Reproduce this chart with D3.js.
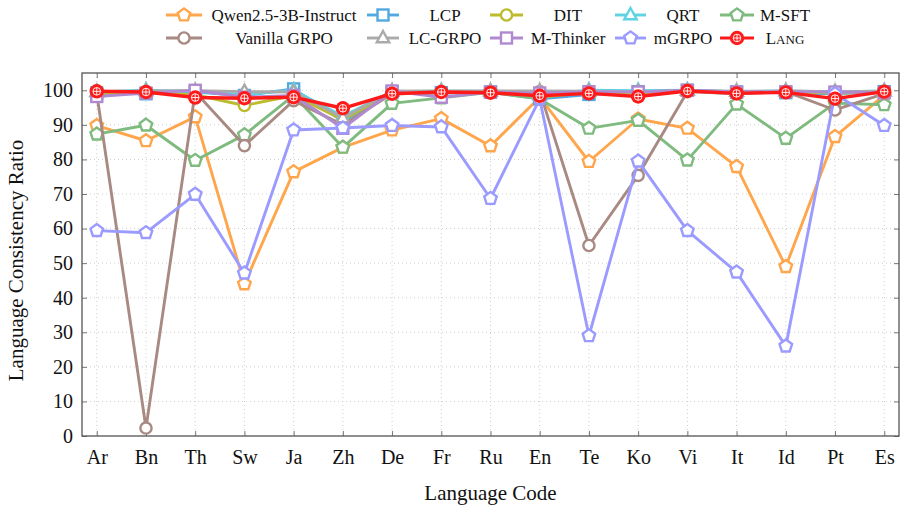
<!DOCTYPE html>
<html>
<head>
<meta charset="utf-8">
<script src="https://cdn.jsdelivr.net/npm/d3@7"></script>
<style>
  body { margin: 0; background: #fff; }
  text { font-family: "Liberation Serif", "DejaVu Serif", serif; fill: #111; }
</style>
</head>
<body>
<svg id="chart" width="907" height="512"></svg>
<script>
"use strict";

// language codes on the x axis
const langs = ["Ar", "Bn", "Th", "Sw", "Ja", "Zh", "De", "Fr", "Ru", "En", "Te", "Ko", "Vi", "It", "Id", "Pt", "Es"];
const yTicks = [0, 10, 20, 30, 40, 50, 60, 70, 80, 90, 100];

// series values
const qwen     = [89.8, 85.4, 92.3, 44.0, 76.4, 83.5, 88.5, 91.8, 83.9, 98.0, 79.4, 91.7, 89.0, 77.9, 49.0, 86.6, 98.6];
const lcp      = [99.2, 99.0, 99.5, 98.5, 100.4, 91.0, 99.5, 99.3, 99.5, 97.5, 98.8, 99.6, 100.0, 99.5, 99.3, 99.0, 99.6];
const dit      = [99.0, 99.3, 98.7, 95.6, 98.5, 91.5, 99.3, 99.5, 99.6, 98.0, 99.4, 99.2, 99.9, 99.3, 99.5, 99.2, 99.5];
const qrt      = [99.5, 100.0, 99.6, 98.8, 100.0, 92.5, 99.6, 99.8, 99.7, 98.5, 100.0, 99.9, 100.0, 99.6, 99.8, 99.5, 99.8];
const msft     = [87.3, 89.9, 79.7, 87.1, 98.5, 83.5, 96.2, 97.8, 99.4, 97.5, 89.0, 91.3, 79.8, 96.0, 86.1, 96.3, 95.8];
const vanilla  = [99.0, 2.3, 99.5, 84.0, 97.0, 90.0, 99.0, 99.2, 99.5, 99.6, 55.1, 75.4, 99.6, 99.0, 99.6, 94.3, 99.0];
const lcgrpo   = [99.6, 99.8, 99.9, 99.6, 99.5, 92.0, 99.8, 99.7, 99.8, 99.8, 99.7, 99.6, 99.9, 99.7, 99.8, 99.6, 99.7];
const mthinker = [98.2, 99.2, 100.0, 98.0, 98.5, 89.0, 99.8, 98.0, 99.5, 99.2, 99.6, 99.5, 100.0, 99.5, 99.6, 99.5, 99.3];
const mgrpo    = [59.4, 58.8, 69.9, 47.1, 88.5, 89.1, 89.8, 89.4, 68.7, 97.5, 29.0, 79.5, 59.4, 47.4, 26.0, 99.0, 89.8];
const lang     = [99.7, 99.5, 97.9, 97.7, 98.0, 94.8, 99.0, 99.5, 99.3, 98.4, 99.1, 98.2, 99.8, 99.1, 99.4, 97.6, 99.6];

const seriesNames = ["Qwen2.5-3B-Instruct", "LCP", "DIT", "QRT", "M-SFT",
                     "Vanilla GRPO", "LC-GRPO", "M-Thinker", "mGRPO", "LANG"];
const seriesValues = [qwen, lcp, dit, qrt, msft, vanilla, lcgrpo, mthinker, mgrpo, lang];
const seriesColors = ["#ffa64d", "#52a9e0", "#bcbc2e", "#5fd3e3", "#7fba7f",
                      "#a98a83", "#aaaaaa", "#b08ad0", "#9b9bff", "#ff1a1a"];
const seriesMarks = ["pentagon", "square", "circle", "triangle", "pentagon",
                     "circle", "triangle", "square", "pentagon", "oplus"];

const series = seriesNames.map((name, i) => ({
  name: name, values: seriesValues[i], color: seriesColors[i], mark: seriesMarks[i]
}));

const svg = d3.select("#chart");
svg.append("rect").attr("width", 907).attr("height", 512).attr("fill", "#fff");

const pLeft = 82, pRight = 899, pTop = 73, pBottom = 436;
const x = d3.scaleLinear().domain([-0.3, langs.length - 0.7]).range([pLeft, pRight]);
const y = d3.scaleLinear().domain([0, 105]).range([pBottom, pTop]);

// dotted grid
const grid = svg.append("g");
grid.selectAll("line.gx").data(langs).enter().append("line")
  .attr("x1", (d, i) => x(i)).attr("x2", (d, i) => x(i))
  .attr("y1", pTop).attr("y2", pBottom)
  .attr("stroke", "#cfcfcf").attr("stroke-width", 1).attr("stroke-dasharray", "1,3");
grid.selectAll("line.gy").data(yTicks).enter().append("line")
  .attr("x1", pLeft).attr("x2", pRight)
  .attr("y1", (d) => y(d)).attr("y2", (d) => y(d))
  .attr("stroke", "#cfcfcf").attr("stroke-width", 1).attr("stroke-dasharray", "1,3");

// axes (ticks point inward, pgfplots style)
const xAxis = d3.axisBottom(x).tickValues(d3.range(langs.length))
  .tickFormat((i) => langs[i]).tickSizeInner(-5).tickSizeOuter(0).tickPadding(14);
const gx = svg.append("g").attr("transform", `translate(0,${pBottom})`).call(xAxis);
const yAxis = d3.axisLeft(y).tickValues(yTicks).tickSizeInner(-5).tickSizeOuter(0).tickPadding(9);
const gy = svg.append("g").attr("transform", `translate(${pLeft},0)`).call(yAxis);
[gx, gy].forEach((g) => {
  g.select(".domain").remove();
  g.selectAll(".tick line").attr("stroke", "#777").attr("stroke-width", 1);
  g.selectAll(".tick text").style("font-family", '"Liberation Serif", serif')
    .style("font-size", "20px").attr("fill", "#111");
});
// mirrored ticks on top and right
svg.append("g").attr("transform", `translate(0,${pTop})`)
  .call(d3.axisTop(x).tickValues(d3.range(langs.length)).tickSizeInner(-5).tickSizeOuter(0).tickFormat(""))
  .call((g) => { g.select(".domain").remove(); g.selectAll(".tick line").attr("stroke", "#777"); });
svg.append("g").attr("transform", `translate(${pRight},0)`)
  .call(d3.axisRight(y).tickValues(yTicks).tickSizeInner(-5).tickSizeOuter(0).tickFormat(""))
  .call((g) => { g.select(".domain").remove(); g.selectAll(".tick line").attr("stroke", "#777"); });

// frame
svg.append("rect").attr("x", pLeft).attr("y", pTop)
  .attr("width", pRight - pLeft).attr("height", pBottom - pTop)
  .attr("fill", "none").attr("stroke", "#555").attr("stroke-width", 1.3);

// axis titles
svg.append("text").attr("x", (pLeft + pRight) / 2).attr("y", 500)
  .attr("text-anchor", "middle").style("font-size", "21px").text("Language Code");
svg.append("text").attr("transform", `translate(23,${(pTop + pBottom) / 2 + 6}) rotate(-90)`)
  .attr("text-anchor", "middle").style("font-size", "21px").text("Language Consistency Ratio");

// marker drawing
function pentagonPath(r) {
  const pts = d3.range(5).map((k) => {
    const a = -Math.PI / 2 + k * 2 * Math.PI / 5;
    return [r * Math.cos(a), r * Math.sin(a)];
  });
  return "M" + pts.map((p) => p.join(",")).join("L") + "Z";
}
function drawMark(g, mark, color) {
  if (mark === "pentagon") {
    g.append("path").attr("d", pentagonPath(6.6))
      .attr("fill", "#fff").attr("stroke", color).attr("stroke-width", 2.4);
  } else if (mark === "circle") {
    g.append("circle").attr("r", 5.6)
      .attr("fill", "#fff").attr("stroke", color).attr("stroke-width", 2.4);
  } else if (mark === "square") {
    g.append("rect").attr("x", -5.5).attr("y", -5.5).attr("width", 11).attr("height", 11)
      .attr("fill", "#fff").attr("stroke", color).attr("stroke-width", 2.4);
  } else if (mark === "triangle") {
    g.append("path").attr("d", "M0,-7L6.2,4.2L-6.2,4.2Z")
      .attr("fill", "#fff").attr("stroke", color).attr("stroke-width", 2.4);
  } else if (mark === "oplus") {
    g.append("circle").attr("r", 7.2).attr("fill", color);
    g.append("circle").attr("r", 3.8).attr("fill", "none").attr("stroke", "#fff").attr("stroke-width", 0.9);
    g.append("path").attr("d", "M-3.8,0H3.8M0,-3.8V3.8")
      .attr("stroke", "#fff").attr("stroke-width", 0.9);
  }
}

const line = d3.line().x((d, i) => x(i)).y((d) => y(d));

const plot = svg.append("g");
series.forEach((s) => {
  const g = plot.append("g");
  g.append("path").datum(s.values).attr("d", line)
    .attr("fill", "none").attr("stroke", s.color)
    .attr("stroke-width", s.mark === "oplus" ? 3.4 : 2.9)
    .attr("stroke-linejoin", "round");
  g.selectAll("g.m").data(s.values).enter().append("g")
    .attr("transform", (d, i) => `translate(${x(i)},${y(d)})`)
    .each(function () { drawMark(d3.select(this), s.mark, s.color); });
});

// legend: 5 columns, 2 rows
const colLine = [[166, 202], [367, 399], [490, 523], [615, 646], [720, 754]];
const colText = [284, 445, 568, 683, 785];
const rowY = [15, 38];
const legend = svg.append("g");
series.forEach((s, i) => {
  const c = i % 5, r = Math.floor(i / 5);
  const ly = rowY[r];
  const g = legend.append("g");
  g.append("line").attr("x1", colLine[c][0]).attr("x2", colLine[c][1])
    .attr("y1", ly).attr("y2", ly).attr("stroke", s.color).attr("stroke-width", 2.9);
  const mg = g.append("g").attr("transform", `translate(${(colLine[c][0] + colLine[c][1]) / 2},${ly})`);
  drawMark(mg, s.mark, s.color);
  const t = g.append("text").attr("x", colText[c]).attr("y", ly + 6)
    .attr("text-anchor", "middle").style("font-size", "17px");
  if (s.name === "LANG") {
    t.append("tspan").text("L");
    t.append("tspan").style("font-size", "13px").text("ANG");
  } else {
    t.text(s.name);
  }
});
</script>
</body>
</html>
